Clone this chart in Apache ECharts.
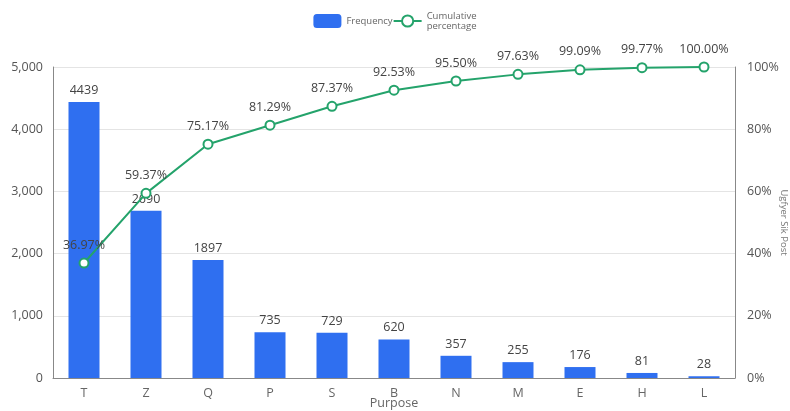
<!DOCTYPE html>
<html>
<head>
<meta charset="utf-8">
<script src="https://cdn.jsdelivr.net/npm/echarts@6/dist/echarts.min.js"></script>
<style>
  html, body { margin: 0; padding: 0; background: #fff; }
  #chart { width: 790px; height: 411px; }
</style>
</head>
<body>
<div id="chart"></div>
<script>
// Pareto chart: frequency per purpose plus cumulative share
const categories = ['T', 'Z', 'Q', 'P', 'S', 'B', 'N', 'M', 'E', 'H', 'L'];
const frequency = [4439, 2690, 1897, 735, 729, 620, 357, 255, 176, 81, 28];
const cumulative = [36.97, 59.37, 75.17, 81.29, 87.37, 92.53, 95.50, 97.63, 99.09, 99.77, 100.00];

const chart = echarts.init(document.getElementById('chart'));
const font = '"Open Sans", "Noto Sans", sans-serif';
const textColor = '#555';

chart.setOption({
  animation: false,
  textStyle: { fontFamily: font },
  legend: {
    top: 6,
    left: 'center',
    itemWidth: 28,
    itemHeight: 14,
    itemGap: 0,
    textStyle: { fontSize: 9.5, color: '#666', fontFamily: font },
    data: [
      { name: 'Frequency', icon: 'roundRect' },
      { name: 'Cumulative\npercentage' }
    ]
  },
  grid: { left: 53, right: 55, top: 67, bottom: 33, containLabel: false, outerBoundsMode: 'none' },
  xAxis: {
    type: 'category',
    data: categories,
    name: 'Purpose',
    nameLocation: 'middle',
    nameGap: 19,
    nameMoveOverlap: false,
    nameTextStyle: { color: '#666', fontSize: 12.5 },
    axisLine: { lineStyle: { color: '#888' } },
    axisTick: { lineStyle: { color: '#888' } },
    axisLabel: { color: '#666', fontSize: 12.5, margin: 9 }
  },
  yAxis: [
    {
      type: 'value',
      min: 0,
      max: 5000,
      interval: 1000,
      axisLine: { show: true, lineStyle: { color: '#888' } },
      axisLabel: { color: textColor, fontSize: 12.5, margin: 10,
        formatter: v => v.toLocaleString('en-US') },
      splitLine: { lineStyle: { color: '#e4e4e4' } }
    },
    {
      type: 'value',
      min: 0,
      max: 100,
      interval: 20,
      name: 'Ugfyer Sik Post',
      nameLocation: 'middle',
      nameRotate: -90,
      nameGap: 44,
      nameMoveOverlap: false,
      nameTextStyle: { color: '#777', fontSize: 9.5 },
      axisLine: { show: true, lineStyle: { color: '#888' } },
      axisLabel: { color: textColor, fontSize: 12.5, margin: 12, formatter: '{value}%' },
      splitLine: { show: false }
    }
  ],
  series: [
    {
      name: 'Frequency',
      type: 'bar',
      data: frequency,
      barWidth: '50%',
      itemStyle: { color: '#2f6ff0' },
      label: { show: true, position: 'top', color: '#444', fontSize: 12.5, distance: 5 }
    },
    {
      name: 'Cumulative\npercentage',
      type: 'line',
      yAxisIndex: 1,
      data: cumulative,
      symbol: 'circle',
      symbolSize: 9,
      itemStyle: { color: '#fff', borderColor: '#24a36b', borderWidth: 2 },
      lineStyle: { color: '#24a36b', width: 2 },
      label: { show: true, position: 'top', color: '#444', fontSize: 12.5, distance: 6,
        formatter: p => p.value.toFixed(2) + '%' }
    }
  ]
});
</script>
</body>
</html>
